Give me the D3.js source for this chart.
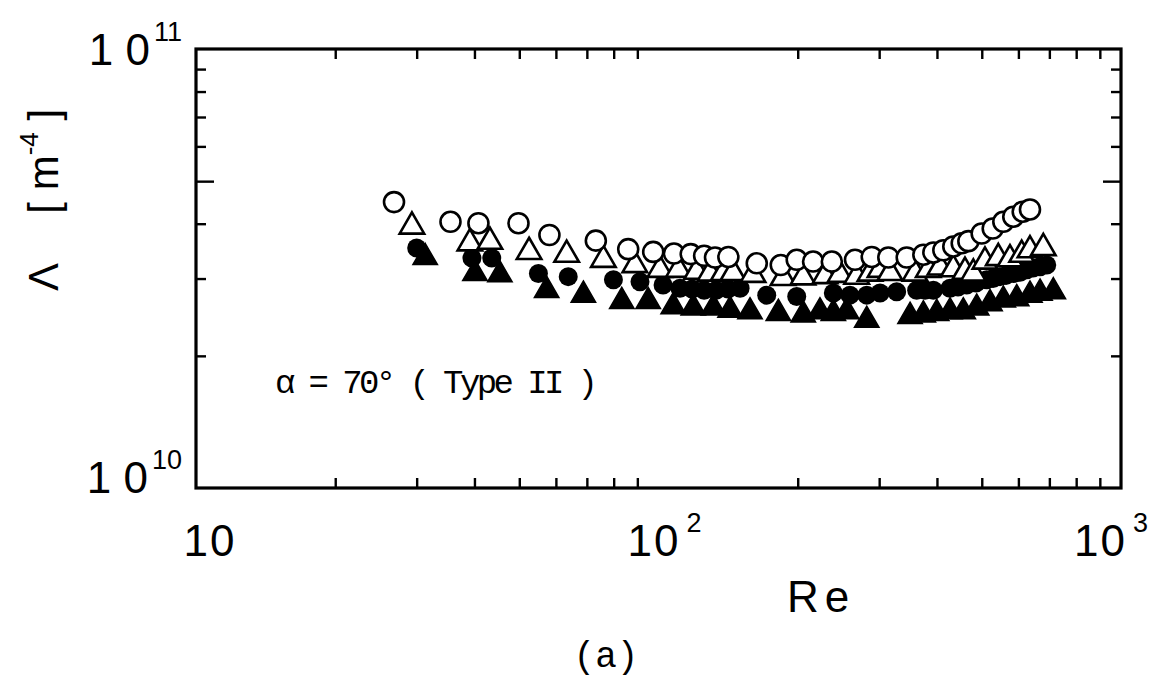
<!DOCTYPE html>
<html><head><meta charset="utf-8">
<script src="https://cdn.jsdelivr.net/npm/d3@7"></script>
<style>
html,body{margin:0;padding:0;background:#fff;}
svg text{fill:#000;}
</style></head>
<body>
<svg id="chart" width="1150" height="677"></svg>
<script>
// ---- data (Re, Lambda [m^-4]) ----
const openCircleRe = [26.8,35.5,40.8,49.8,58.1,73.2,86.0,97.4,108,117.4,125.5,132.5,141.6,163.1,183.8,199.0,215.9,237.0,266.0,289.1,314.0,344.1,373.8,392.9,412.9,433.9,452.5,467.7,499.7,528.0,556.6,584.9,613.0,635.6];
const openCircleL  = [4.48,4.04,4.01,4.01,3.77,3.66,3.50,3.45,3.42,3.41,3.38,3.35,3.36,3.25,3.22,3.31,3.28,3.28,3.31,3.36,3.35,3.35,3.40,3.44,3.48,3.55,3.61,3.65,3.80,3.90,4.04,4.15,4.26,4.31].map(v=>v*1e10);

const openTriRe = [29.3,39.1,43.2,52.5,63.3,76.0,88.9,100.7,110.4,120.9,129.2,138.1,144.9,160.1,185.9,205.3,229.1,246.9,268.2,286.7,301.3,316.6,358.6,383.1,406.1,433.9,459.9,479.4,508.0,542.8,575.4,609.9,635.6,679.2];
const openTriL  = [3.94,3.61,3.64,3.45,3.40,3.31,3.22,3.14,3.14,3.11,3.08,3.09,3.09,3.06,3.01,3.02,3.04,3.06,3.03,3.08,3.14,3.09,3.08,3.14,3.18,3.15,3.11,3.08,3.28,3.34,3.32,3.40,3.48,3.52].map(v=>v*1e10);

const fillCircleRe = [30.0,39.5,43.6,55.0,63.8,79.9,91.2,102.3,111.3,118.2,125.5,133.2,141.4,150.1,171.4,199.0,238.8,259.4,282.0,301.3,327.3,361.6,376.9,392.9,426.9,444.2,463.8,485.9,512.4,528.8,547.5,564.2,584.9,604.8,625.4,645.3,668.3,690.9];
const fillCircleL  = [3.52,3.34,3.34,3.08,3.03,2.98,2.95,2.90,2.85,2.84,2.82,2.82,2.84,2.85,2.75,2.73,2.78,2.75,2.75,2.78,2.80,2.82,2.82,2.82,2.85,2.87,2.90,2.93,2.98,3.00,3.03,3.05,3.08,3.10,3.14,3.17,3.19,3.22].map(v=>v*1e10);

const fillTriRe = [31.3,40.1,45.4,57.3,68.8,83.3,95.0,107.6,118.9,131.4,142.8,157.7,181.6,205.6,223.4,238.8,255.2,282.0,349.9,373.8,399.5,426.9,456.0,487.5,521.0,556.6,595.0,635.6,668.3,714.0];
const fillTriL  = [3.35,3.08,3.06,2.82,2.75,2.66,2.66,2.59,2.57,2.57,2.54,2.52,2.50,2.48,2.52,2.50,2.52,2.41,2.46,2.48,2.50,2.52,2.52,2.57,2.63,2.68,2.70,2.75,2.78,2.80].map(v=>v*1e10);

const xMajor = [10,100,1000];
const xMinor = [20,30,40,50,60,70,80,90,200,300,400,500,600,700,800,900];
const yMajor = [1e10,1e11];
const yMinor = [2e10,3e10,4e10,5e10,6e10,7e10,8e10,9e10];
const xLabelExp = ["","2","3"];
const yLabelExp = ["10","11"];

// ---- layout ----
const L=196,R=1121,T=49,B=488;
const SANS="'Liberation Sans','DejaVu Sans',sans-serif";
const MONO="'Liberation Mono','DejaVu Sans Mono',monospace";
const svg=d3.select("#chart");
const x=d3.scaleLog().domain([10,1000]).range([L,R]);
const y=d3.scaleLog().domain([1e10,1e11]).range([B,T]);

// ticks (inward)
const tk=10;
svg.append("g").attr("transform",`translate(0,${B})`)
  .call(d3.axisBottom(x).tickValues(xMinor).tickSize(-tk).tickFormat(""));
svg.append("g").attr("transform",`translate(0,${T})`)
  .call(d3.axisTop(x).tickValues(xMinor).tickSize(-tk).tickFormat(""));
svg.append("g").attr("transform",`translate(${L},0)`)
  .call(d3.axisLeft(y).tickValues(yMinor).tickSize(-tk).tickFormat(""));
svg.append("g").attr("transform",`translate(${R},0)`)
  .call(d3.axisRight(y).tickValues(yMinor).tickSize(-tk).tickFormat(""));
svg.selectAll("g .domain").remove();
svg.selectAll("g .tick line").attr("stroke","#000").attr("stroke-width",2.4);
svg.selectAll("g .tick").filter(d=>d===5e10).select("line")
  .attr("x2",function(){return +d3.select(this).attr("x2")>0?18:-18;});

// frame
svg.append("rect").attr("x",L).attr("y",T).attr("width",R-L).attr("height",B-T)
  .attr("fill","none").attr("stroke","#000").attr("stroke-width",3.2);

// x tick labels
const xdx = v => v===10?14:(v===1000?-10:6);
xMajor.forEach((v,i)=>{
  const t=svg.append("text").attr("x",x(v)+xdx(v)).attr("y",556)
    .attr("text-anchor","middle").style("font-family",SANS).attr("font-size",44);
  t.append("tspan").text("10").attr("letter-spacing",2);
  if(xLabelExp[i]) t.append("tspan").text(xLabelExp[i]).attr("font-size",27).attr("dy",-24).attr("dx",6);
});
// y tick labels
yMajor.forEach((v,i)=>{
  const t=svg.append("text").attr("x",182).attr("y",y(v)+(i===0?5:16))
    .attr("text-anchor","end").style("font-family",SANS).attr("font-size",44);
  t.append("tspan").text("1 0");
  t.append("tspan").text(yLabelExp[i]).attr("font-size",27).attr("dy",-24).attr("dx",4);
});

// axis titles
svg.append("text").attr("x",821).attr("y",612).attr("text-anchor","middle")
  .style("font-family",SANS).attr("font-size",44).attr("letter-spacing",6).text("Re");
const yt=svg.append("text").attr("transform","translate(58,200) rotate(-90)")
  .attr("text-anchor","middle").style("font-family",SANS).attr("font-size",42);
yt.append("tspan").text("Λ");
yt.append("tspan").text("  [ m").attr("dx",40);
yt.append("tspan").text("-4").attr("font-size",26).attr("dy",-20);
yt.append("tspan").text(" ]").attr("dy",20);

svg.append("text").attr("x",606).attr("y",667).attr("text-anchor","middle")
  .style("font-family",MONO).attr("font-size",36).text("(a)");

svg.append("text").attr("x",275).attr("y",393).style("font-family",MONO).attr("font-size",34)
  .attr("textLength",323).attr("lengthAdjust","spacing")
  .text("α = 70° ( Type II )");

// ---- marks ----
const g=svg.append("g");
const ocs=openCircleRe.map((r,i)=>[r,openCircleL[i]]);
const ots=openTriRe.map((r,i)=>[r,openTriL[i]]);
const fcs=fillCircleRe.map((r,i)=>[r,fillCircleL[i]]);
const fts=fillTriRe.map((r,i)=>[r,fillTriL[i]]);
const tri=d3.symbol().type(d3.symbolTriangle).size(260);

g.selectAll(".ft").data(fts).join("path").attr("class","ft")
  .attr("d",tri).attr("transform",d=>`translate(${x(d[0])},${y(d[1])})`)
  .attr("fill","#000").attr("stroke","#000").attr("stroke-width",1.5);
g.selectAll(".fc").data(fcs).join("circle").attr("class","fc")
  .attr("cx",d=>x(d[0])).attr("cy",d=>y(d[1])).attr("r",9.5)
  .attr("fill","#000");
g.selectAll(".ot").data(ots).join("path").attr("class","ot")
  .attr("d",tri).attr("transform",d=>`translate(${x(d[0])},${y(d[1])})`)
  .attr("fill","#fff").attr("stroke","#000").attr("stroke-width",2.6);
g.selectAll(".oc").data(ocs).join("circle").attr("class","oc")
  .attr("cx",d=>x(d[0])).attr("cy",d=>y(d[1])).attr("r",10)
  .attr("fill","#fff").attr("stroke","#000").attr("stroke-width",2.6);
</script>
</body></html>
